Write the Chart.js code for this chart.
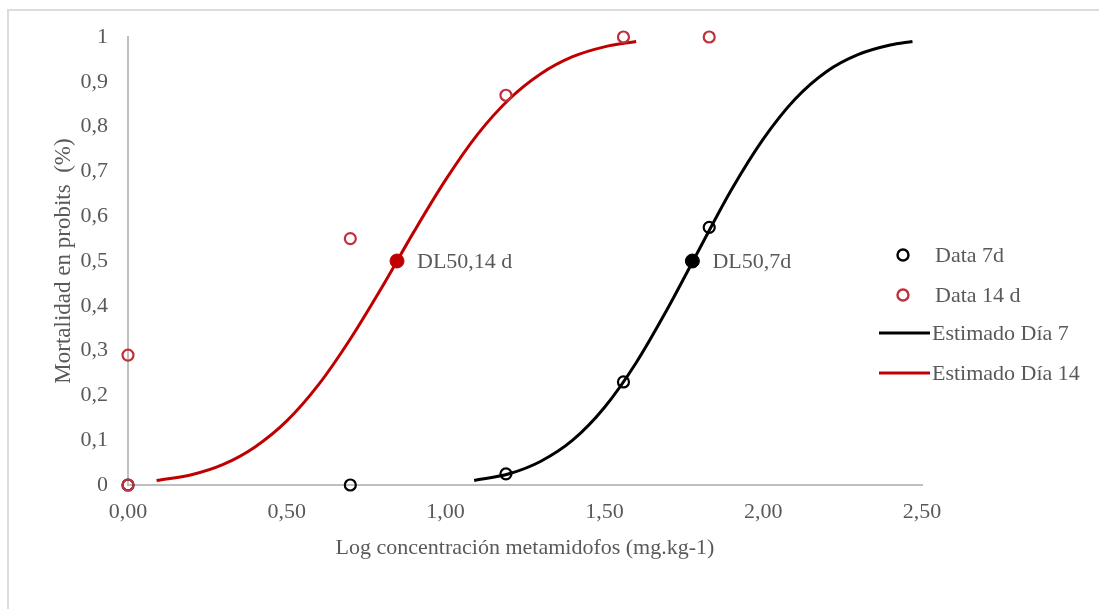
<!DOCTYPE html>
<html>
<head>
<meta charset="utf-8">
<script src="https://cdn.jsdelivr.net/npm/chart.js@4"></script>
<style>
  html, body { margin: 0; padding: 0; background: #ffffff; overflow: hidden; }
  #frame { position: absolute; left: 7px; top: 9px; width: 1110px; height: 620px; border-top: 2px solid #dcdcdc; border-left: 2px solid #dcdcdc; }
  #wrap { position: absolute; left: 0; top: 0; width: 1099px; height: 609px; }
</style>
</head>
<body>
<div id="frame"></div>
<div id="wrap"><canvas id="c" width="1099" height="609"></canvas></div>
<script>
// ---- data ----
const seriesNames = ['Data 7d', 'Data 14 d', 'Estimado Día 7', 'Estimado Día 14'];

const data7dX = [0.00, 0.70, 1.19, 1.56, 1.83];
const data7dY = [0.00, 0.00, 0.025, 0.23, 0.575];

const data14dX = [0.00, 0.00, 0.70, 1.19, 1.56, 1.83];
const data14dY = [0.29, 0.00, 0.55, 0.87, 1.00, 1.00];

const est7X = [1.09, 1.20, 1.30, 1.40, 1.50, 1.60, 1.70, 1.80, 1.90, 2.00, 2.10, 2.20, 2.30, 2.40, 2.47];
const est7Y = [0.010, 0.025, 0.053, 0.100, 0.173, 0.273, 0.395, 0.528, 0.659, 0.772, 0.861, 0.923, 0.961, 0.982, 0.990];

const est14X = [0.09, 0.20, 0.30, 0.40, 0.50, 0.60, 0.70, 0.80, 0.90, 1.00, 1.10, 1.20, 1.30, 1.40, 1.50, 1.60];
const est14Y = [0.010, 0.023, 0.046, 0.085, 0.143, 0.224, 0.326, 0.442, 0.565, 0.681, 0.782, 0.861, 0.918, 0.956, 0.978, 0.990];

const dl50Labels = ['DL50,14 d', 'DL50,7d'];
const dl50X = [0.847, 1.777];
const dl50Y = [0.5, 0.5];

const xTickValues = [0, 0.5, 1.0, 1.5, 2.0, 2.5];
const xTickLabels = ['0,00', '0,50', '1,00', '1,50', '2,00', '2,50'];
const yTickLabels = ['0', '0,1', '0,2', '0,3', '0,4', '0,5', '0,6', '0,7', '0,8', '0,9', '1'];

const xTitle = 'Log concentración metamidofos (mg.kg-1)';
const yTitle = 'Mortalidad en probits  (%)';

// ---- styling ----
const FONT = 'Liberation Serif, Times New Roman, serif';
const TXT = '#595959';
const RED = '#c00000';
const RED_C = '#c0303a';
const BLACK = '#000000';
const AXIS = '#bfbfbf';

const pts = (xs, ys) => xs.map((x, i) => ({ x: x, y: ys[i] }));

const legendPlugin = {
  id: 'customLegend',
  afterDraw(chart) {
    const ctx = chart.ctx;
    ctx.save();
    ctx.font = '22px ' + FONT;
    ctx.fillStyle = TXT;
    ctx.textBaseline = 'middle';
    ctx.textAlign = 'left';
    const rows = [
      { y: 255, kind: 'circle', color: BLACK },
      { y: 295, kind: 'circle', color: RED_C },
      { y: 333, kind: 'line', color: BLACK },
      { y: 373, kind: 'line', color: RED }
    ];
    rows.forEach((r, i) => {
      if (r.kind === 'circle') {
        ctx.beginPath();
        ctx.lineWidth = 2.4;
        ctx.strokeStyle = r.color;
        ctx.arc(903, r.y, 5.5, 0, Math.PI * 2);
        ctx.stroke();
        ctx.fillStyle = TXT;
        ctx.fillText(seriesNames[i], 935, r.y + 1);
      } else {
        ctx.beginPath();
        ctx.lineWidth = 3;
        ctx.strokeStyle = r.color;
        ctx.moveTo(879, r.y);
        ctx.lineTo(930, r.y);
        ctx.stroke();
        ctx.fillStyle = TXT;
        ctx.fillText(seriesNames[i], 932, r.y + 1);
      }
    });
    // DL50 annotations
    const xs = chart.scales.x, ys = chart.scales.y;
    dl50Labels.forEach((t, i) => {
      ctx.fillStyle = TXT;
      ctx.fillText(t, xs.getPixelForValue(dl50X[i]) + 20, ys.getPixelForValue(dl50Y[i]) + 1);
    });
    ctx.restore();
  }
};

new Chart(document.getElementById('c'), {
  type: 'scatter',
  data: {
    datasets: [
      {
        label: 'DL50 14',
        data: [{ x: dl50X[0], y: dl50Y[0] }],
        pointRadius: 7, pointBackgroundColor: RED, pointBorderColor: RED, pointBorderWidth: 1,
        clip: false, order: 0
      },
      {
        label: 'DL50 7',
        data: [{ x: dl50X[1], y: dl50Y[1] }],
        pointRadius: 7, pointBackgroundColor: BLACK, pointBorderColor: BLACK, pointBorderWidth: 1,
        clip: false, order: 0
      },
      {
        label: seriesNames[1],
        data: pts(data14dX, data14dY),
        pointRadius: 5.5, pointBorderWidth: 2.2, pointBorderColor: RED_C, pointBackgroundColor: 'rgba(0,0,0,0)',
        clip: false, order: 1
      },
      {
        label: seriesNames[0],
        data: pts(data7dX, data7dY),
        pointRadius: 5.5, pointBorderWidth: 2.2, pointBorderColor: BLACK, pointBackgroundColor: 'rgba(0,0,0,0)',
        clip: false, order: 2
      },
      {
        label: seriesNames[2],
        data: pts(est7X, est7Y),
        showLine: true, borderColor: BLACK, borderWidth: 3, pointRadius: 0,
        cubicInterpolationMode: 'monotone',
        clip: false, order: 3
      },
      {
        label: seriesNames[3],
        data: pts(est14X, est14Y),
        showLine: true, borderColor: RED, borderWidth: 3, pointRadius: 0,
        cubicInterpolationMode: 'monotone',
        clip: false, order: 4
      }
    ]
  },
  options: {
    responsive: false,
    animation: false,
    events: [],
    layout: { padding: { left: 46, top: 37, right: 177, bottom: 44 } },
    plugins: { legend: { display: false }, tooltip: { enabled: false } },
    scales: {
      x: {
        type: 'linear',
        min: 0, max: 2.5,
        afterFit: (s) => { s.height = 80; },
        afterBuildTicks: (s) => { s.ticks = xTickValues.map(v => ({ value: v })); },
        ticks: {
          padding: 14,
          color: TXT,
          font: { family: FONT, size: 22 },
          maxRotation: 0,
          callback: (v) => { const i = xTickValues.findIndex(t => Math.abs(t - v) < 1e-9); return i >= 0 ? xTickLabels[i] : ''; }
        },
        grid: { display: true, color: 'rgba(0,0,0,0)', drawTicks: false },
        border: { display: true, color: AXIS, width: 2 },
        title: { display: true, text: xTitle, color: TXT, font: { family: FONT, size: 22 }, padding: { top: 4, bottom: 4 } }
      },
      y: {
        type: 'linear',
        min: 0, max: 1,
        afterFit: (s) => { s.width = 82; },
        ticks: {
          stepSize: 0.1,
          padding: 20,
          color: TXT,
          font: { family: FONT, size: 22 },
          callback: (v) => { const i = Math.round(v * 10); return yTickLabels[i]; }
        },
        grid: { display: true, color: 'rgba(0,0,0,0)', drawTicks: false },
        border: { display: true, color: AXIS, width: 2 },
        title: { display: true, text: yTitle, color: TXT, font: { family: FONT, size: 23 }, padding: { top: 4, bottom: 4 } }
      }
    }
  },
  plugins: [legendPlugin]
});
</script>
</body>
</html>
